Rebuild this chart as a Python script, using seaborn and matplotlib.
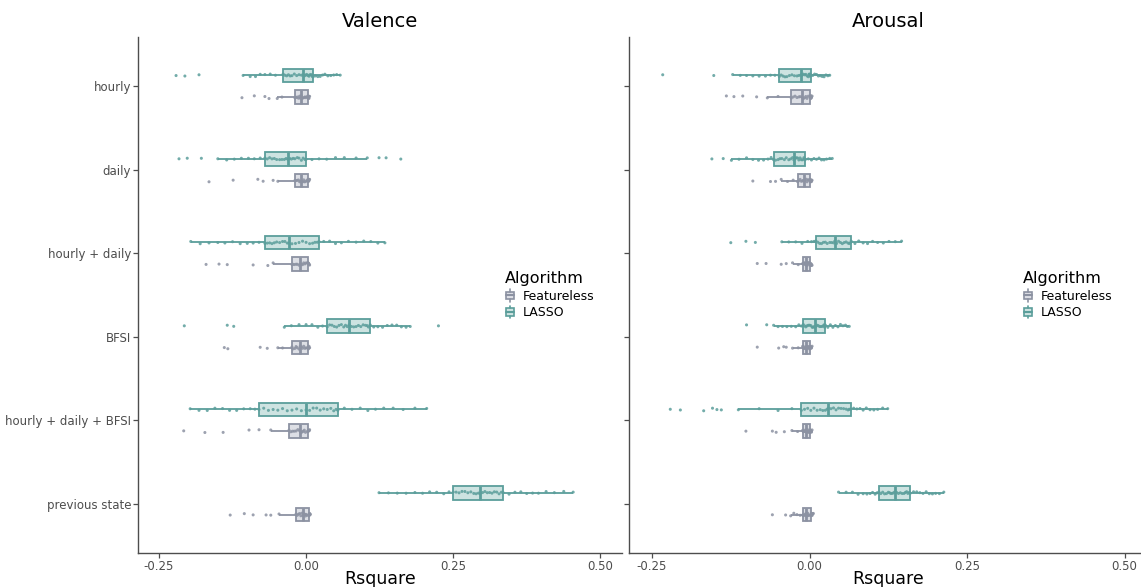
import numpy as np
import pandas as pd
import seaborn as sns
import matplotlib.pyplot as plt
from matplotlib.patches import Patch, Rectangle
from matplotlib.lines import Line2D
from matplotlib.legend_handler import HandlerBase

# ---------------- data ----------------
features = ["hourly", "daily", "hourly + daily", "BFSI", "hourly + daily + BFSI", "previous state"]
algorithms = ["Featureless", "LASSO"]
panels = ["Valence", "Arousal"]
x_ticks = [-0.25, 0.0, 0.25, 0.5]
x_tick_labels = ["-0.25", "0.00", "0.25", "0.50"]

# Valence, LASSO
val_hourly_lasso = [-0.221, -0.206, -0.182, -0.107, -0.095, -0.086, -0.078, -0.070, -0.061, -0.052,
                    -0.039, -0.036, -0.033, -0.030, -0.027, -0.024, -0.020, -0.016, -0.012, -0.008,
                    -0.005, -0.003, -0.001, 0.001, 0.003, 0.005, 0.006, 0.008, 0.009, 0.011,
                    0.012, 0.016, 0.020, 0.024, 0.028, 0.032, 0.037, 0.042, 0.047, 0.052, 0.058]
val_daily_lasso = [-0.216, -0.202, -0.178, -0.150, -0.135, -0.122, -0.110, -0.098, -0.088, -0.078,
                   -0.070, -0.066, -0.062, -0.058, -0.054, -0.050, -0.045, -0.041, -0.037, -0.034,
                   -0.031, -0.028, -0.025, -0.022, -0.019, -0.015, -0.012, -0.008, -0.005, -0.002,
                   0.000, 0.010, 0.022, 0.035, 0.050, 0.065, 0.085, 0.104, 0.124, 0.136, 0.161]
val_hd_lasso = [-0.196, -0.180, -0.165, -0.150, -0.138, -0.125, -0.112, -0.100, -0.090, -0.080,
                -0.070, -0.066, -0.062, -0.058, -0.054, -0.050, -0.045, -0.040, -0.036, -0.032,
                -0.029, -0.024, -0.018, -0.012, -0.006, 0.000, 0.006, 0.011, 0.015, 0.019,
                0.022, 0.030, 0.040, 0.050, 0.060, 0.072, 0.085, 0.098, 0.110, 0.122, 0.134]
val_bfsi_lasso = [-0.207, -0.134, -0.123, -0.037, -0.025, -0.012, 0.000, 0.010, 0.020, 0.028,
                  0.036, 0.040, 0.044, 0.048, 0.052, 0.056, 0.060, 0.064, 0.067, 0.070,
                  0.073, 0.077, 0.081, 0.085, 0.089, 0.093, 0.097, 0.101, 0.104, 0.106,
                  0.109, 0.115, 0.122, 0.130, 0.138, 0.146, 0.154, 0.162, 0.170, 0.177, 0.225]
val_hdb_lasso = [-0.197, -0.182, -0.168, -0.155, -0.142, -0.130, -0.118, -0.106, -0.095, -0.087,
                 -0.080, -0.072, -0.064, -0.056, -0.048, -0.040, -0.032, -0.024, -0.016, -0.008,
                 0.000, 0.006, 0.012, 0.018, 0.024, 0.030, 0.036, 0.042, 0.047, 0.051,
                 0.054, 0.065, 0.078, 0.092, 0.105, 0.118, 0.132, 0.148, 0.165, 0.185, 0.205]
val_prev_lasso = [0.124, 0.140, 0.155, 0.170, 0.185, 0.198, 0.210, 0.222, 0.234, 0.243,
                  0.250, 0.255, 0.260, 0.265, 0.270, 0.275, 0.280, 0.285, 0.289, 0.293,
                  0.296, 0.300, 0.304, 0.308, 0.312, 0.316, 0.320, 0.324, 0.328, 0.332,
                  0.335, 0.345, 0.355, 0.365, 0.375, 0.385, 0.395, 0.408, 0.422, 0.438, 0.454]

# Valence, Featureless
val_hourly_feat = [-0.109, -0.088, -0.070, -0.063, -0.049, -0.041, -0.019, -0.017, -0.015, -0.013,
                   -0.011, -0.010, -0.008, -0.006, -0.004, -0.002, -0.001, 0.001, 0.003,
                   0.003, 0.004, 0.004, 0.005, 0.005, 0.006]
val_daily_feat = [-0.165, -0.124, -0.082, -0.073, -0.056, -0.048, -0.019, -0.017, -0.015, -0.013,
                  -0.011, -0.009, -0.008, -0.006, -0.004, -0.003, -0.001, 0.001, 0.003,
                  0.003, 0.004, 0.004, 0.005, 0.005, 0.006]
val_hd_feat = [-0.170, -0.148, -0.134, -0.090, -0.065, -0.056, -0.024, -0.022, -0.020, -0.017,
               -0.015, -0.012, -0.010, -0.008, -0.006, -0.004, -0.002, 0.000, 0.003,
               0.003, 0.004, 0.004, 0.005, 0.005, 0.006]
val_bfsi_feat = [-0.139, -0.133, -0.078, -0.066, -0.048, -0.040, -0.024, -0.022, -0.019, -0.017,
                 -0.015, -0.012, -0.010, -0.008, -0.006, -0.004, -0.002, 0.000, 0.003,
                 0.003, 0.004, 0.004, 0.005, 0.005, 0.006]
val_hdb_feat = [-0.208, -0.172, -0.141, -0.097, -0.080, -0.060, -0.029, -0.026, -0.023, -0.020,
                -0.017, -0.014, -0.011, -0.009, -0.007, -0.005, -0.003, -0.001, 0.003,
                0.003, 0.004, 0.004, 0.005, 0.005, 0.006]
val_prev_feat = [-0.129, -0.105, -0.090, -0.068, -0.060, -0.046, -0.017, -0.015, -0.013, -0.011,
                 -0.009, -0.007, -0.005, -0.004, -0.002, -0.001, 0.000, 0.002, 0.005,
                 0.005, 0.005, 0.006, 0.006, 0.007, 0.007]

# Arousal, LASSO
aro_hourly_lasso = [-0.233, -0.152, -0.122, -0.110, -0.100, -0.090, -0.080, -0.070, -0.062, -0.055,
                    -0.048, -0.045, -0.042, -0.039, -0.036, -0.032, -0.028, -0.024, -0.020, -0.017,
                    -0.014, -0.012, -0.010, -0.008, -0.006, -0.004, -0.002, -0.001, 0.000, 0.001,
                    0.002, 0.005, 0.008, 0.011, 0.014, 0.017, 0.020, 0.023, 0.026, 0.029, 0.032]
aro_daily_lasso = [-0.155, -0.137, -0.124, -0.112, -0.100, -0.090, -0.081, -0.073, -0.066, -0.061,
                   -0.057, -0.054, -0.050, -0.047, -0.044, -0.040, -0.037, -0.033, -0.030, -0.027,
                   -0.025, -0.023, -0.021, -0.019, -0.017, -0.015, -0.013, -0.011, -0.009, -0.008,
                   -0.007, -0.002, 0.003, 0.007, 0.011, 0.015, 0.019, 0.023, 0.027, 0.032, 0.036]
aro_hd_lasso = [-0.125, -0.101, -0.086, -0.044, -0.033, -0.022, -0.012, -0.003, 0.003, 0.007,
                0.010, 0.013, 0.016, 0.019, 0.022, 0.025, 0.028, 0.032, 0.035, 0.038,
                0.040, 0.043, 0.046, 0.049, 0.052, 0.055, 0.058, 0.061, 0.063, 0.065,
                0.066, 0.072, 0.078, 0.085, 0.092, 0.100, 0.108, 0.117, 0.126, 0.136, 0.146]
aro_bfsi_lasso = [-0.100, -0.068, -0.057, -0.050, -0.043, -0.036, -0.029, -0.022, -0.017, -0.013,
                  -0.010, -0.008, -0.006, -0.004, -0.002, 0.000, 0.002, 0.004, 0.005, 0.007,
                  0.008, 0.010, 0.012, 0.014, 0.016, 0.018, 0.020, 0.022, 0.023, 0.024,
                  0.025, 0.029, 0.033, 0.037, 0.041, 0.045, 0.049, 0.053, 0.057, 0.060, 0.063]
aro_hdb_lasso = [-0.221, -0.205, -0.168, -0.154, -0.147, -0.140, -0.113, -0.080, -0.050, -0.028,
                 -0.013, -0.008, -0.003, 0.002, 0.007, 0.012, 0.017, 0.021, 0.025, 0.028,
                 0.030, 0.034, 0.038, 0.042, 0.046, 0.050, 0.054, 0.058, 0.061, 0.063,
                 0.065, 0.070, 0.075, 0.080, 0.085, 0.090, 0.096, 0.102, 0.108, 0.116, 0.124]
aro_prev_lasso = [0.046, 0.058, 0.068, 0.077, 0.085, 0.091, 0.096, 0.100, 0.104, 0.107,
                  0.110, 0.113, 0.116, 0.119, 0.122, 0.125, 0.127, 0.129, 0.131, 0.133,
                  0.135, 0.138, 0.141, 0.144, 0.147, 0.150, 0.152, 0.154, 0.156, 0.158,
                  0.160, 0.165, 0.170, 0.175, 0.180, 0.185, 0.190, 0.195, 0.200, 0.206, 0.213]

# Arousal, Featureless
aro_hourly_feat = [-0.132, -0.120, -0.106, -0.084, -0.067, -0.050, -0.029, -0.026, -0.023, -0.020,
                   -0.017, -0.015, -0.012, -0.010, -0.008, -0.006, -0.004, -0.002, 0.001,
                   0.001, 0.002, 0.002, 0.003, 0.003, 0.004]
aro_daily_feat = [-0.090, -0.062, -0.054, -0.045, -0.035, -0.026, -0.019, -0.017, -0.015, -0.013,
                  -0.011, -0.010, -0.009, -0.007, -0.005, -0.004, -0.002, -0.001, 0.001,
                  0.001, 0.002, 0.002, 0.003, 0.003, 0.004]
aro_hd_feat = [-0.083, -0.069, -0.045, -0.037, -0.027, -0.018, -0.011, -0.010, -0.009, -0.008,
               -0.007, -0.006, -0.005, -0.004, -0.003, -0.002, -0.001, 0.000, 0.001,
               0.001, 0.002, 0.002, 0.003, 0.003, 0.004]
aro_bfsi_feat = [-0.083, -0.049, -0.041, -0.037, -0.027, -0.018, -0.011, -0.010, -0.009, -0.008,
                 -0.007, -0.006, -0.005, -0.004, -0.003, -0.002, -0.001, 0.000, 0.001,
                 0.001, 0.002, 0.002, 0.003, 0.003, 0.004]
aro_hdb_feat = [-0.101, -0.059, -0.053, -0.040, -0.028, -0.019, -0.011, -0.010, -0.009, -0.008,
                -0.007, -0.006, -0.005, -0.004, -0.003, -0.002, -0.001, 0.000, 0.001,
                0.001, 0.002, 0.002, 0.003, 0.003, 0.004]
aro_prev_feat = [-0.059, -0.038, -0.030, -0.025, -0.020, -0.015, -0.011, -0.010, -0.009, -0.008,
                 -0.007, -0.006, -0.005, -0.004, -0.003, -0.002, -0.001, 0.000, 0.003,
                 0.003, 0.004, 0.004, 0.005, 0.005, 0.006]

valence_lasso = [val_hourly_lasso, val_daily_lasso, val_hd_lasso, val_bfsi_lasso, val_hdb_lasso, val_prev_lasso]
valence_feat = [val_hourly_feat, val_daily_feat, val_hd_feat, val_bfsi_feat, val_hdb_feat, val_prev_feat]
arousal_lasso = [aro_hourly_lasso, aro_daily_lasso, aro_hd_lasso, aro_bfsi_lasso, aro_hdb_lasso, aro_prev_lasso]
arousal_feat = [aro_hourly_feat, aro_daily_feat, aro_hd_feat, aro_bfsi_feat, aro_hdb_feat, aro_prev_feat]


def build_frame(lasso_lists, feat_lists):
    rows = []
    for feat, vals in zip(features, lasso_lists):
        rows += [(feat, "LASSO", v) for v in vals]
    for feat, vals in zip(features, feat_lists):
        rows += [(feat, "Featureless", v) for v in vals]
    return pd.DataFrame(rows, columns=["feature", "Algorithm", "Rsquare"])


frames = {"Valence": build_frame(valence_lasso, valence_feat),
          "Arousal": build_frame(arousal_lasso, arousal_feat)}

# ---------------- style ----------------
dark = {"LASSO": "#5b9e9b", "Featureless": "#8c92a2"}
light = {"LASSO": "#cde3e1", "Featureless": "#dddfe5"}
axis_col = "#4d4d4d"

sns.set_theme(style="white")
plt.rcParams["font.family"] = ["DejaVu Sans"]
np.random.seed(3)

W, H = 1141, 587
fig = plt.figure(figsize=(W / 100, H / 100), dpi=100)
ax_left = fig.add_axes([138 / W, 1 - 553 / H, 484 / W, 516 / H])
ax_right = fig.add_axes([629 / W, 1 - 553 / H, 519 / W, 516 / H])


class BoxKeyHandler(HandlerBase):
    def create_artists(self, legend, orig_handle, xdescent, ydescent, width, height, fontsize, trans):
        face = orig_handle.get_facecolor()
        edge = orig_handle.get_edgecolor()
        x0, y0 = -xdescent, -ydescent
        rect = Rectangle((x0 + 0.1 * width, y0 + 0.22 * height), 0.8 * width, 0.56 * height,
                         facecolor=face, edgecolor=edge, linewidth=1.2, transform=trans)
        med = Line2D([x0 + 0.1 * width, x0 + 0.9 * width], [y0 + 0.5 * height] * 2,
                     color=edge, linewidth=1.5, transform=trans)
        w1 = Line2D([x0 + 0.5 * width] * 2, [y0, y0 + 0.22 * height], color=edge, linewidth=1.2, transform=trans)
        w2 = Line2D([x0 + 0.5 * width] * 2, [y0 + 0.78 * height, y0 + height], color=edge, linewidth=1.2, transform=trans)
        return [rect, med, w1, w2]


def draw_panel(ax, title, df, show_labels, xlim, legend_x):
    hue_order = ["LASSO", "Featureless"]
    for algo in hue_order:
        sub = df[df["Algorithm"] == algo]
        sns.boxplot(data=sub, x="Rsquare", y="feature", hue="Algorithm", order=features,
                    hue_order=hue_order, palette=light, saturation=1, linecolor=dark[algo],
                    linewidth=1.3, width=0.52, gap=0.38, dodge=True, showfliers=False,
                    showcaps=False, medianprops={"linewidth": 2.0}, orient="h",
                    ax=ax, legend=False, zorder=2)
    for algo in hue_order:
        sub = df[df["Algorithm"] == algo]
        n_before = len(ax.collections)
        sns.stripplot(data=sub, x="Rsquare", y="feature", hue="Algorithm", order=features,
                      hue_order=hue_order, palette=dark, dodge=True, jitter=0.035, size=2.2,
                      alpha=0.85, linewidth=0, orient="h", ax=ax, legend=False, zorder=3)
        shift = 0.07 if algo == "LASSO" else -0.07
        for coll in ax.collections[n_before:]:
            off = coll.get_offsets().copy()
            off[:, 1] += shift
            coll.set_offsets(off)

    ax.set_xlim(*xlim)
    ax.set_ylim(5.59, -0.59)
    ax.set_xticks(x_ticks)
    ax.set_xticklabels(x_tick_labels)
    ax.set_yticks(range(len(features)))
    ax.set_yticklabels(features if show_labels else [""] * len(features))
    ax.set_xlabel("Rsquare", fontsize=12.5, color="black", labelpad=-2)
    ax.set_ylabel("")
    ax.set_title(title, fontsize=14, color="black", pad=7)
    for side in ["top", "right"]:
        ax.spines[side].set_visible(False)
    for side in ["left", "bottom"]:
        ax.spines[side].set_color(axis_col)
        ax.spines[side].set_linewidth(1.0)
    ax.tick_params(axis="both", which="both", length=3.5, width=0.9, color=axis_col,
                   labelcolor=axis_col, labelsize=8.5, pad=1.5, left=True, bottom=True)
    ax.grid(False)
    ax.set_facecolor("white")

    handles = [Patch(facecolor=light[a], edgecolor=dark[a], label=a) for a in algorithms]
    leg = ax.legend(handles=handles, title="Algorithm", loc="center left",
                    bbox_to_anchor=(legend_x, 0.5), bbox_transform=ax.transAxes,
                    frameon=False, fontsize=9, title_fontsize=11.5, handlelength=0.8,
                    handleheight=1.2, handletextpad=0.6, labelspacing=0.25,
                    alignment="left", handler_map={Patch: BoxKeyHandler()})
    leg.get_title().set_color("black")
    for t in leg.get_texts():
        t.set_color("black")


draw_panel(ax_left, "Valence", frames["Valence"], True, (-0.2857, 0.537), 0.735)
draw_panel(ax_right, "Arousal", frames["Arousal"], False, (-0.2865, 0.537), 0.737)

fig.savefig("out.png", dpi=100)
